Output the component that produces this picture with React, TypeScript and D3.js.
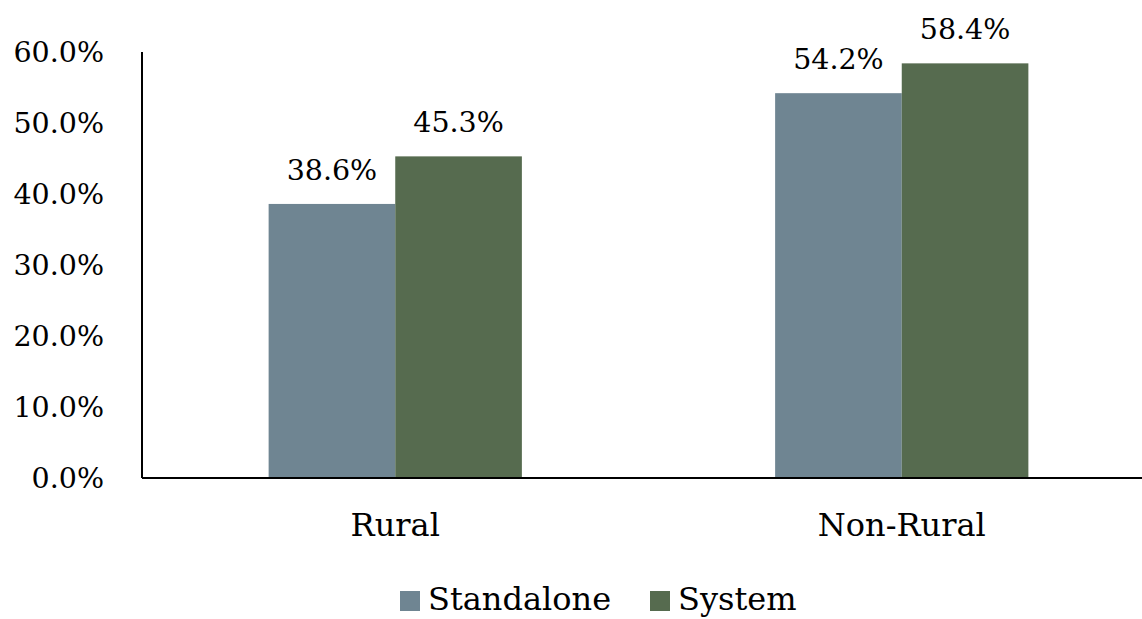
import React, { useEffect, useRef } from "react";
import * as d3 from "d3";

const categories = ["Rural", "Non-Rural"];
const seriesNames = ["Standalone", "System"];
const standaloneValues = [38.6, 54.2];
const systemValues = [45.3, 58.4];
const yTicks = [0, 10, 20, 30, 40, 50, 60];
const colors = ["#6f8592", "#566b4f"];

const FONT = "'DejaVu Serif', 'Liberation Serif', serif";

export default function App() {
  const svgRef = useRef<SVGSVGElement>(null);
  const width = 1142;
  const height = 619;

  useEffect(() => {
    const svg = d3.select(svgRef.current);
    svg.selectAll("*").remove();

    const left = 142;
    const bottom = 478;

    const x = d3
      .scaleBand()
      .domain(categories)
      .range([left, 1155])
      .paddingInner(0.5)
      .paddingOuter(0.25);

    const xs = d3
      .scaleBand()
      .domain(seriesNames)
      .range([0, x.bandwidth()]);

    const y = d3.scaleLinear().domain([0, 60]).range([bottom, 52]);

    const rows = categories.map((c, i) => ({
      cat: c,
      values: [standaloneValues[i], systemValues[i]],
    }));

    // bars
    const groups = svg
      .append("g")
      .selectAll("g")
      .data(rows)
      .join("g")
      .attr("transform", (d) => `translate(${x(d.cat)},0)`);

    groups
      .selectAll("rect")
      .data((d) => d.values.map((v, j) => ({ v, j })))
      .join("rect")
      .attr("x", (d) => xs(seriesNames[d.j])!)
      .attr("width", xs.bandwidth())
      .attr("y", (d) => y(d.v))
      .attr("height", (d) => bottom - y(d.v))
      .attr("fill", (d) => colors[d.j]);

    groups
      .selectAll("text")
      .data((d) => d.values.map((v, j) => ({ v, j })))
      .join("text")
      .attr("x", (d) => xs(seriesNames[d.j])! + xs.bandwidth() / 2)
      .attr("y", (d) => y(d.v) - 24)
      .attr("text-anchor", "middle")
      .style("font-family", FONT)
      .style("font-size", "28.5px")
      .attr("fill", "#000")
      .text((d) => d.v.toFixed(1) + "%");

    // y axis
    const yAxis = d3
      .axisLeft(y)
      .tickValues(yTicks)
      .tickSize(0)
      .tickPadding(38)
      .tickFormat((d) => (d as number).toFixed(1) + "%");

    const yg = svg.append("g").attr("transform", `translate(${left},0)`).call(yAxis);
    yg.select(".domain").remove();
    yg.selectAll("text")
      .style("font-family", FONT)
      .style("font-size", "28.5px")
      .attr("fill", "#000");

    svg
      .append("line")
      .attr("x1", left)
      .attr("x2", left)
      .attr("y1", y(60))
      .attr("y2", bottom)
      .attr("stroke", "#000")
      .attr("stroke-width", 2);

    svg
      .append("line")
      .attr("x1", left)
      .attr("x2", width)
      .attr("y1", bottom)
      .attr("y2", bottom)
      .attr("stroke", "#000")
      .attr("stroke-width", 2);

    // category labels
    svg
      .append("g")
      .selectAll("text")
      .data(categories)
      .join("text")
      .attr("x", (d) => x(d)! + x.bandwidth() / 2)
      .attr("y", 536)
      .attr("text-anchor", "middle")
      .style("font-family", FONT)
      .style("font-size", "32px")
      .attr("fill", "#000")
      .text((d) => d);

    // legend
    const legendX = [400, 650];
    const legend = svg
      .append("g")
      .selectAll("g")
      .data(seriesNames)
      .join("g")
      .attr("transform", (d, i) => `translate(${legendX[i]},0)`);

    legend
      .append("rect")
      .attr("x", 0)
      .attr("y", 591)
      .attr("width", 20)
      .attr("height", 20)
      .attr("fill", (d, i) => colors[i]);

    legend
      .append("text")
      .attr("x", 28)
      .attr("y", 610)
      .style("font-family", FONT)
      .style("font-size", "32px")
      .attr("fill", "#000")
      .text((d) => d);
  }, []);

  return (
    <svg
      ref={svgRef}
      width={width}
      height={height}
      style={{ position: "absolute", left: 0, top: 0, background: "#fff" }}
    ></svg>
  );
}
